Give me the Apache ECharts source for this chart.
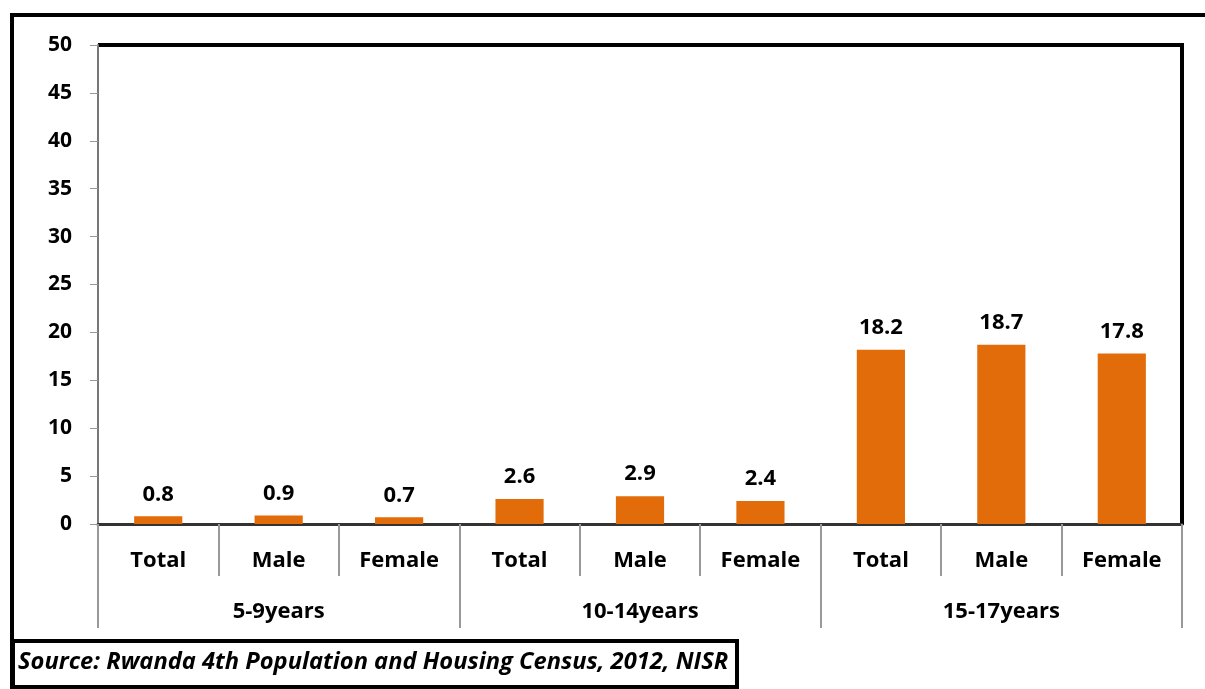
<!DOCTYPE html>
<html>
<head>
<meta charset="utf-8">
<script src="https://cdn.jsdelivr.net/npm/echarts@6/dist/echarts.min.js"></script>
<style>
  html, body { margin: 0; padding: 0; background: #fff; }
  #chart { width: 1205px; height: 689px; }
</style>
</head>
<body>
<div id="chart"></div>
<script>
// data
var subCategories = ['Total', 'Male', 'Female', 'Total', 'Male', 'Female', 'Total', 'Male', 'Female'];
var groups = ['5-9years', '10-14years', '15-17years'];
var values = [0.8, 0.9, 0.7, 2.6, 2.9, 2.4, 18.2, 18.7, 17.8];
var sourceText = 'Source: Rwanda 4th Population and Housing Census, 2012, NISR';

var font = '"Open Sans", Lato, sans-serif';
var fs = 22;
var chart = echarts.init(document.getElementById('chart'));

var option = {
  animation: false,
  backgroundColor: '#fff',
  grid: { left: 98, right: 23, top: 45, bottom: 165 },
  xAxis: [
    {
      type: 'category',
      data: subCategories,
      position: 'bottom',
      axisLine: { lineStyle: { color: '#333', width: 3 } },
      axisTick: { show: true, interval: 0, length: 52, lineStyle: { color: '#999', width: 2 } },
      axisLabel: { interval: 0, margin: 26, color: '#000', fontFamily: font, fontWeight: 'bold', fontSize: fs }
    },
    {
      type: 'category',
      data: groups,
      position: 'bottom',
      axisLine: { show: false },
      axisTick: { show: true, interval: 0, length: 104, lineStyle: { color: '#999', width: 2 } },
      axisLabel: { interval: 0, margin: 77, color: '#000', fontFamily: font, fontWeight: 'bold', fontSize: fs }
    }
  ],
  yAxis: {
    type: 'value',
    min: 0,
    max: 50,
    interval: 5,
    splitLine: { show: false },
    axisLine: { show: true, lineStyle: { color: '#777', width: 2 } },
    axisTick: { show: true, length: 8, lineStyle: { color: '#999' } },
    axisLabel: { margin: 26, color: '#000', fontFamily: font, fontWeight: 'bold', fontSize: 21 }
  },
  series: [
    {
      type: 'bar',
      xAxisIndex: 0,
      data: values,
      barWidth: '40%',
      itemStyle: { color: '#E36C0A' },
      label: {
        show: true,
        position: 'top',
        distance: 11,
        color: '#000',
        fontFamily: font,
        fontWeight: 'bold',
        fontSize: fs
      }
    }
  ],
  graphic: [
    // outer frame
    { type: 'line', shape: { x1: 10, y1: 15, x2: 1205, y2: 15 }, style: { stroke: '#000', lineWidth: 4 } },
    { type: 'line', shape: { x1: 12, y1: 13, x2: 12, y2: 689 }, style: { stroke: '#000', lineWidth: 4 } },
    // plot frame top / right
    { type: 'line', shape: { x1: 98, y1: 45, x2: 1184, y2: 45 }, style: { stroke: '#000', lineWidth: 4 } },
    { type: 'line', shape: { x1: 1182, y1: 43, x2: 1182, y2: 525 }, style: { stroke: '#000', lineWidth: 4 } },
    // source box
    { type: 'rect', shape: { x: 13, y: 641, width: 724, height: 46 }, style: { fill: '#fff', stroke: '#000', lineWidth: 4 } },
    {
      type: 'text', left: 18, top: 650,
      style: { text: sourceText, fill: '#000', font: 'italic bold 23.7px ' + font }
    }
  ]
};

chart.setOption(option);
window.addEventListener('resize', function () { chart.resize(); });
</script>
</body>
</html>
